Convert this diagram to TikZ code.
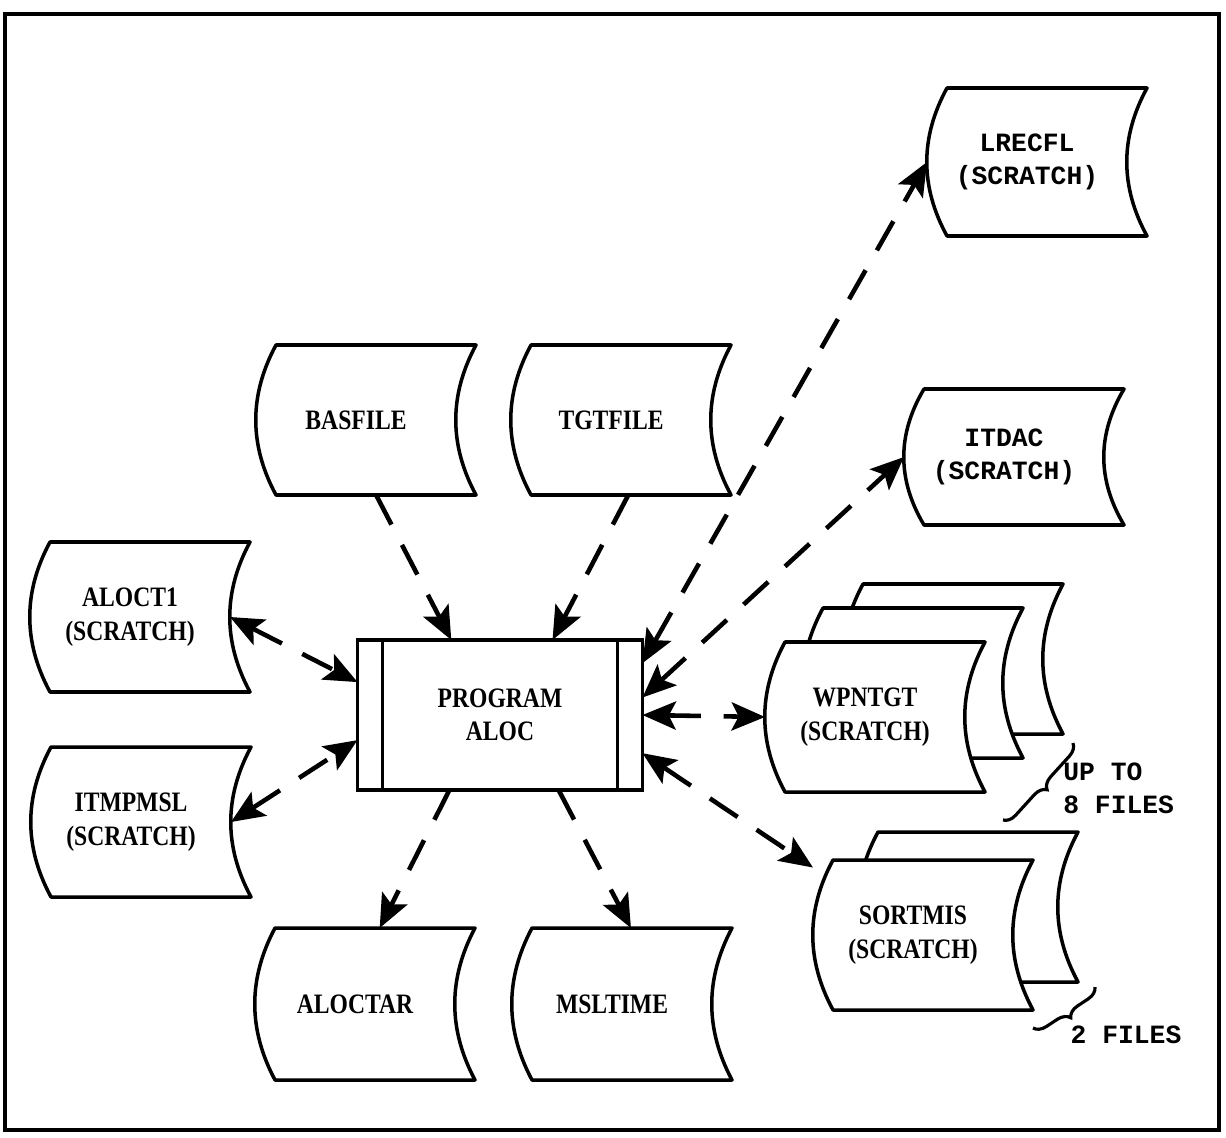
\documentclass[tikz,border=0pt]{standalone}
\usepackage{fontspec}
\setmainfont{Liberation Serif}[FakeStretch=0.84]
\newfontfamily\typer{Liberation Mono}
\usetikzlibrary{arrows.meta,calc,decorations.pathreplacing}

\newcommand{\Bulge}{27}
% outline of a stored-data file, centred on #1, half height #2
\newcommand{\tapeoutline}[2]{%
  \filldraw[tapeline] ($(#1)+(-80,-#2)$) -- ($(#1)+(120,-#2)$)
    .. controls ($(#1)+(120-\Bulge,-#2/3)$) and ($(#1)+(120-\Bulge,#2/3)$) .. ($(#1)+(120,#2)$)
    -- ($(#1)+(-80,#2)$)
    .. controls ($(#1)+(-80-\Bulge,#2/3)$) and ($(#1)+(-80-\Bulge,-#2/3)$) .. cycle;}
\newcommand{\tapenode}[5][]{%
  \tapeoutline{#3}{#4}
  \node[tape, minimum height=#4*0.04cm, #1] (#2) at (#3) {#5};}

\begin{document}
\begin{tikzpicture}[
    x=0.02cm, y=-0.02cm,
    >={Stealth[length=19pt, width=16pt, inset=4pt]},
    tapeline/.style={draw=black, fill=white, line width=2pt, line join=round},
    tape/.style={minimum width=4cm, inner sep=0pt, outer sep=0pt, align=center,
      font=\fontsize{16}{19}\selectfont\bfseries},
    typed/.style={font=\typer\fontsize{15}{19}\selectfont\bfseries},
    program/.style={draw, line width=2pt, minimum width=5.7cm, minimum height=3cm, outer sep=0pt,
      align=center, font=\fontsize{16}{19}\selectfont\bfseries},
    link/.style={->, line width=2.6pt, dash pattern=on 19pt off 13pt},
    both/.style={link, <->},
    note/.style={typed, align=left, inner sep=0pt},
    curl/.style={line width=1.8pt, decorate, decoration={brace, amplitude=7pt, mirror}},
  ]
\useasboundingbox (0,0) rectangle (1226,1138);
\draw[line width=2.2pt] (5,14) rectangle (1219,1130);

% --- Files read in ---------------------------------------------------------
\tapenode{bas}{356,420}{75}{BASFILE}
\tapenode{tgt}{611,420}{75}{TGTFILE}

% --- Scratch files ---------------------------------------------------------
\tapenode[typed]{lrec}{1027,162}{74}{LRECFL\\(SCRATCH)}
\tapenode[typed]{itdac}{1004,457}{68}{ITDAC\\(SCRATCH)}
\tapenode{aloct}{130,617}{75}{ALOCT1\\(SCRATCH)}
\tapenode{itmp}{131,822}{75}{ITMPMSL\\(SCRATCH)}

% --- Stacked scratch files -------------------------------------------------
\tapeoutline{943,659}{75}
\tapeoutline{903,683}{75}
\tapenode{wpn}{865,717}{75}{WPNTGT\\(SCRATCH)}
\tapeoutline{958,907}{75}
\tapenode{sort}{913,935}{75}{SORTMIS\\(SCRATCH)}

% --- Files written ---------------------------------------------------------
\tapenode{aloctar}{355,1004}{76}{ALOCTAR}
\tapenode{msl}{612,1004}{76}{MSLTIME}

% --- The program -----------------------------------------------------------
\node[program] (prog) at (500,715) {PROGRAM\\ALOC};
\draw[line width=2pt] ($(prog.north west)+(25,0)$) -- ($(prog.south west)+(25,0)$);
\draw[line width=2pt] ($(prog.north east)+(-25,0)$) -- ($(prog.south east)+(-25,0)$);

% --- Data flow -------------------------------------------------------------
\draw[link] (bas.-75) -- (prog.123);
\draw[link] (tgt.-77) -- (prog.55);
\draw[both] (prog.20) -- (lrec.west);
\draw[both] (prog.7) -- (itdac.west);
\draw[both] (prog.east) -- (wpn.west);
\draw[both] (prog.-15) -- (sort.146);
\draw[link] (prog.-124) -- (aloctar.72);
\draw[link] (prog.-52) -- (msl.76);
\draw[both] (aloct.east) -- (prog.167);
\draw[both] (itmp.east) -- (prog.190);

% --- File counts -----------------------------------------------------------
\coordinate (wpnA) at (1003,820);
\coordinate (wpnB) at (1073,743);
\draw[curl] (wpnA) -- (wpnB);
\node[note, anchor=west] (upto) at (1063,788) {UP TO\\8 FILES};
\coordinate (sortA) at (1033,1028);
\coordinate (sortB) at (1095,987);
\draw[curl] (sortA) -- (sortB);
\node[note] (twofiles) at (1126,1035) {2 FILES};

\end{tikzpicture}
\end{document}
